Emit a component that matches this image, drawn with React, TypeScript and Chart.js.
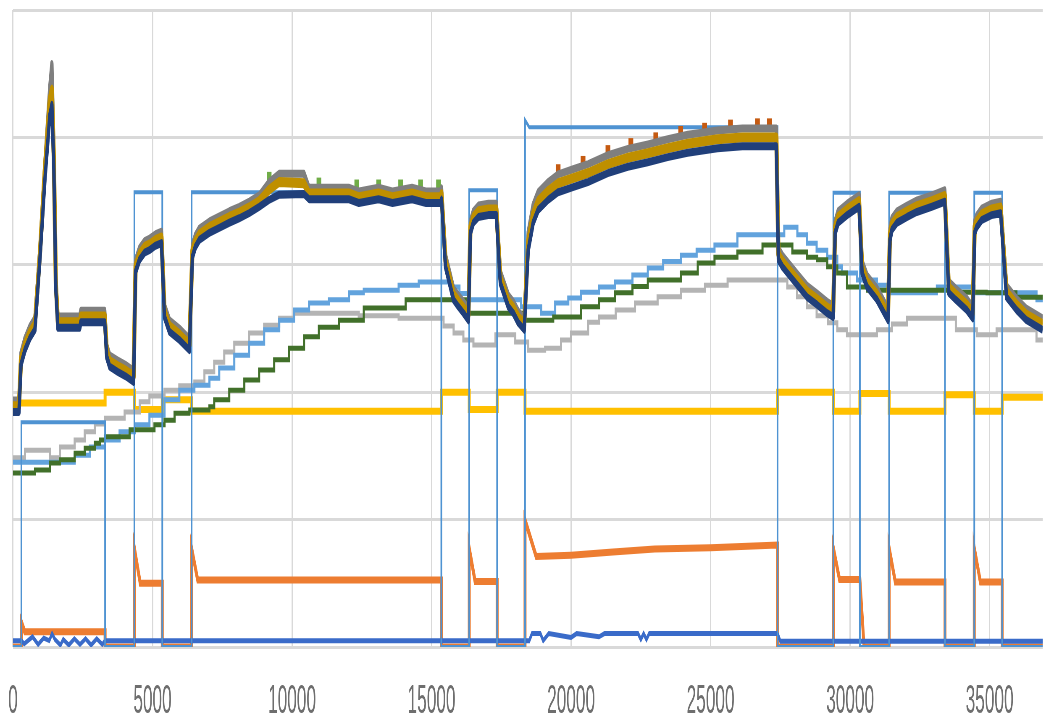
import React, { useEffect, useRef } from 'react';
import { Chart, registerables } from 'chart.js';

Chart.register(...registerables);

// ---- picture geometry (the reference is squeezed horizontally) ----
const DISPLAY_W = 1046;
const DISPLAY_H = 717;
const SQUEEZE = 0.42;
const CANVAS_W = Math.round(DISPLAY_W / SQUEEZE);
const K = CANVAS_W / DISPLAY_W;

// ---- axes ----
const X_MIN = 0;
const X_MAX = 36900;
const xTickValues = [0, 5000, 10000, 15000, 20000, 25000, 30000, 35000];
const Y_MIN = 0;
const Y_MAX = 100;
const Y_STEP = 20;

type P = [number, number];

// ---- thin light-blue square wave ----
const squareWave: P[] = [
  [0, 0], [300, 0], [300, 35.3], [3300, 35.3], [3300, 0], [4350, 0], [4350, 71.4], [5350, 71.4], [5350, 0],
  [6400, 0], [6400, 71.4], [15350, 71.4], [15350, 0], [16350, 0], [16350, 71.7], [17350, 71.7], [17350, 0],
  [18350, 0], [18350, 82.7], [18500, 81.6], [27400, 81.6], [27400, 0], [29400, 0], [29400, 71.3], [30350, 71.3],
  [30350, 0], [31400, 0], [31400, 71.3], [33400, 71.3], [33400, 0], [34450, 0], [34450, 71.3], [35450, 71.3],
  [35450, 0], [36900, 0],
];

// ---- orange ----
const orangeSeries: P[] = [
  [0, 0], [300, 0], [300, 3.9], [420, 2.4], [3300, 2.4], [3300, 0], [4350, 0], [4350, 15.5], [4560, 10.0],
  [5350, 10.0], [5350, 0], [6400, 0], [6400, 15.5], [6620, 10.5], [15350, 10.5], [15350, 0], [16350, 0],
  [16350, 15.5], [16560, 10.3], [17350, 10.3], [17350, 0], [18350, 0], [18350, 19.9], [18750, 14.2],
  [20000, 14.4], [21500, 14.9], [23000, 15.4], [25000, 15.6], [27400, 16.0], [27400, 0], [29400, 0],
  [29400, 15.5], [29620, 10.6], [30350, 10.6], [30500, 0], [31400, 0], [31400, 15.5], [31620, 10.2],
  [33400, 10.2], [33400, 0], [34450, 0], [34450, 15.5], [34670, 10.2], [35450, 10.2], [35450, 0], [36900, 0],
];

// ---- royal blue near the bottom ----
const royalBlue: P[] = [
  [0, 1.0], [300, 1.0], [400, 0.5], [700, 1.6], [900, 0.4], [1100, 1.4], [1300, 1.0], [1400, 2.1], [1500, 1.2],
  [1700, 0.3], [1800, 1.2], [2000, 0.3], [2200, 1.3], [2400, 0.4], [2600, 1.3], [2800, 0.3], [3000, 1.3],
  [3200, 0.4], [3300, 1.0], [18500, 1.0], [18600, 2.1], [18900, 2.1], [19000, 1.0], [19200, 2.1], [20000, 1.5],
  [20200, 2.1], [21000, 1.6], [21200, 2.1], [22400, 2.1], [22500, 1.2], [22600, 2.1], [22700, 1.2], [22800, 2.1],
  [27400, 2.1], [27500, 0.9], [36900, 0.9],
];

// ---- yellow ----
const yellowSeries: P[] = [
  [0, 38.3], [3300, 38.3], [3300, 40.0], [4350, 40.0], [4350, 37.3], [5350, 37.3], [5350, 38.8], [6400, 38.8],
  [6400, 37.0], [15350, 37.0], [15350, 40.0], [16350, 40.0], [16350, 37.3], [17350, 37.3], [17350, 40.0],
  [18350, 40.0], [18350, 37.0], [27400, 37.0], [27400, 40.0], [29400, 40.0], [29400, 37.0], [30350, 37.0],
  [30350, 39.8], [31400, 39.8], [31400, 37.0], [33400, 37.0], [33400, 39.6], [34450, 39.6], [34450, 37.0],
  [35450, 37.0], [35450, 39.2], [36900, 39.2],
];

// ---- stepped slow series (level starts at x) ----
const grayStep: P[] = [
  [0, 29.7], [430, 30.9], [1320, 29.7], [1680, 31.4], [2210, 32.5], [2570, 33.8], [2930, 35.0], [3290, 35.9],
  [4000, 36.9], [4540, 38.5], [4890, 39.4], [5430, 40.3], [5960, 41.0], [6500, 41.6], [6860, 43.2], [7210, 44.7],
  [7570, 46.3], [7930, 47.7], [8460, 49.3], [9000, 50.5], [9540, 51.6], [10070, 52.4], [12390, 52.0],
  [13820, 51.6], [15430, 50.4], [15790, 49.3], [16140, 48.2], [16500, 47.4], [17290, 49.0], [18000, 47.9],
  [18460, 46.6], [19070, 46.9], [19640, 48.2], [20000, 49.3], [20610, 51.0], [21000, 51.8], [21600, 52.9],
  [22290, 54.0], [23100, 55.0], [23930, 56.0], [24800, 56.8], [25610, 57.6], [27750, 56.5], [28100, 55.0],
  [28460, 53.4], [28800, 52.0], [29200, 50.9], [29540, 49.8], [29890, 49.0], [30960, 49.8], [31500, 50.7],
  [32040, 51.6], [33790, 49.8], [34540, 49.0], [35250, 49.8], [36680, 48.2], [36900, 48.2],
];

const lightBlueStep: P[] = [
  [0, 29.0], [2210, 30.1], [2750, 31.4], [3290, 32.5], [3820, 33.8], [4360, 34.9], [4890, 36.4], [5430, 38.8],
  [5960, 40.3], [6500, 41.1], [7040, 42.2], [7390, 43.8], [7930, 45.8], [8460, 47.7], [9000, 49.8], [9540, 51.3],
  [10070, 52.9], [10610, 54.0], [11320, 54.5], [12040, 55.6], [12570, 56.0], [13820, 56.8], [14540, 57.3],
  [15710, 56.5], [16000, 55.5], [16320, 54.5], [18210, 53.4], [18930, 52.4], [19430, 54.0], [19900, 54.8],
  [20360, 55.7], [21000, 56.5], [21570, 57.3], [22200, 58.4], [22750, 59.5], [23300, 60.5], [23930, 61.5],
  [24500, 62.3], [25140, 63.1], [25960, 64.7], [27640, 65.9], [28110, 64.7], [28460, 63.4], [28800, 62.3],
  [29180, 61.2], [29540, 59.7], [29710, 58.7], [30250, 57.6], [30960, 56.8], [31430, 55.6], [33110, 56.5],
  [34460, 55.6], [36680, 54.5], [36900, 54.5],
];

const greenStep: P[] = [
  [0, 27.3], [790, 27.8], [1320, 28.9], [1680, 29.4], [2210, 30.4], [2570, 31.2], [2930, 32.0], [3110, 32.5],
  [3290, 33.0], [4180, 34.1], [5070, 34.9], [5430, 35.6], [5790, 36.7], [6320, 37.2], [7040, 37.7], [7210, 38.8],
  [7750, 40.3], [8290, 41.9], [8820, 43.5], [9360, 45.1], [9890, 46.9], [10430, 48.7], [10960, 50.2],
  [11680, 51.3], [12570, 53.2], [14070, 54.5], [16320, 52.4], [18360, 51.3], [19360, 51.8], [20360, 53.4],
  [21000, 54.5], [21570, 55.6], [22200, 56.6], [22750, 57.6], [23930, 58.7], [24540, 60.3], [25140, 61.2],
  [25960, 62.0], [26860, 63.1], [27930, 62.0], [28460, 61.2], [28820, 60.8], [29180, 59.7], [29540, 58.7],
  [29890, 56.5], [30610, 56.0], [33790, 55.7], [34890, 55.6], [35960, 54.9], [36900, 54.9],
];

// ---- main bundle of fast series ----
const groupX = [
  0, 214, 286, 429, 607, 786, 964, 1143, 1321, 1393, 1464, 1536, 1607, 2393, 2430, 3286, 3360, 3464, 3750, 4036,
  4321, 4393, 4536, 4714, 4893, 5107, 5321, 5429, 5607, 5964, 6321, 6429, 6536, 6679, 7036, 7393, 7750, 8107,
  8464, 8821, 9179, 9536, 10429, 10607, 12036, 12393, 13100, 13600, 14300, 14800, 15320, 15357, 15500, 15786,
  15964, 16143, 16321, 16393, 16500, 16679, 17036, 17321, 17464, 17750, 17929, 18107, 18321, 18464, 18643,
  18821, 19179, 19536, 20071, 20607, 21321, 22036, 22750, 23464, 24179, 25250, 26143, 27357, 27430, 27571,
  27750, 28107, 28464, 28821, 29179, 29393, 29464, 29571, 29893, 30321, 30429, 30607, 30964, 31357, 31429,
  31500, 31679, 32036, 32393, 32929, 33393, 33536, 33786, 34179, 34393, 34464, 34536, 34714, 35071, 35393,
  35607, 35964, 36321, 36900,
];

const navyV = [
  36.9, 36.9, 44.3, 46.6, 48.5, 49.8, 60.8, 73.3, 83.5, 85.1, 74.9, 56.0, 50.1, 50.1, 51.0, 51.0, 45.5, 44.0, 43.2,
  42.5, 41.6, 58.9, 60.8, 61.9, 62.3, 63.0, 63.4, 51.8, 49.5, 48.2, 46.6, 61.2, 62.8, 63.9, 65.0, 65.8, 66.6, 67.3,
  68.1, 69.1, 70.2, 71.0, 71.1, 70.3, 70.3, 69.7, 70.3, 69.7, 70.3, 69.7, 69.7, 70.2, 59.7, 54.5, 53.4, 52.4, 51.3,
  65.0, 66.6, 67.5, 67.8, 67.8, 57.1, 53.4, 52.4, 50.9, 49.8, 62.3, 66.6, 68.6, 70.2, 71.4, 72.2, 73.0, 74.4, 75.4,
  76.1, 76.9, 77.6, 78.3, 78.6, 78.6, 60.8, 59.7, 58.7, 56.8, 54.9, 53.7, 52.4, 51.8, 65.0, 66.6, 67.8, 69.1, 58.7,
  56.5, 54.5, 51.3, 63.9, 65.5, 66.6, 67.5, 68.3, 69.1, 69.9, 55.6, 54.5, 52.9, 51.6, 65.0, 65.9, 67.0, 67.8, 68.1,
  54.9, 52.9, 51.3, 49.8,
];

const goldV = [
  37.8, 37.8, 45.2, 47.5, 49.4, 50.7, 61.7, 75.0, 86.0, 87.5, 76.5, 56.9, 51.0, 51.0, 51.9, 51.9, 46.4, 44.9, 44.1,
  43.4, 42.5, 59.8, 61.7, 62.8, 63.2, 63.9, 64.3, 52.7, 50.4, 49.1, 47.5, 62.1, 63.7, 64.8, 65.9, 66.7, 67.5, 68.2,
  69.0, 70.0, 71.8, 73.0, 72.8, 71.2, 71.2, 70.6, 71.2, 70.6, 71.2, 70.6, 70.6, 71.1, 60.6, 55.4, 54.3, 53.3, 52.2,
  65.9, 67.5, 68.4, 68.7, 68.7, 58.0, 54.3, 53.3, 51.8, 50.7, 63.7, 68.0, 70.0, 71.6, 72.8, 73.6, 74.4, 75.8, 76.8,
  77.5, 78.3, 79.0, 79.7, 80.0, 80.0, 61.7, 60.6, 59.6, 57.7, 55.8, 54.6, 53.3, 52.7, 65.9, 67.5, 68.7, 70.0, 59.6,
  57.4, 55.4, 52.2, 64.8, 66.4, 67.5, 68.4, 69.2, 70.0, 70.8, 56.5, 55.4, 53.8, 52.5, 65.9, 66.8, 67.9, 68.7, 69.0,
  55.8, 53.8, 52.2, 50.7,
];

const darkGrayV = [
  38.7, 38.7, 46.1, 48.4, 50.3, 51.6, 62.6, 76.0, 88.0, 91.5, 78.0, 57.8, 51.9, 51.9, 52.8, 52.8, 47.3, 45.8, 45.0,
  44.3, 43.4, 60.7, 62.6, 63.7, 64.1, 64.8, 65.2, 53.6, 51.3, 50.0, 48.4, 63.0, 64.6, 65.7, 66.8, 67.6, 68.4, 69.1,
  69.9, 70.9, 73.0, 74.3, 74.3, 72.1, 72.1, 71.5, 72.1, 71.5, 72.1, 71.5, 71.5, 72.0, 61.5, 56.3, 55.2, 54.2, 53.1,
  66.8, 68.4, 69.3, 69.6, 69.6, 58.9, 55.2, 54.2, 52.7, 51.6, 65.1, 69.4, 71.4, 73.0, 74.2, 75.0, 75.8, 77.2, 78.2,
  78.9, 79.7, 80.4, 81.1, 81.4, 81.4, 62.6, 61.5, 60.5, 58.6, 56.7, 55.5, 54.2, 53.6, 66.8, 68.4, 69.6, 70.9, 60.5,
  58.3, 56.3, 53.1, 65.7, 67.3, 68.4, 69.3, 70.1, 70.9, 71.7, 57.4, 56.3, 54.7, 53.4, 66.8, 67.7, 68.8, 69.6, 69.9,
  56.7, 54.7, 53.1, 51.6,
];

// small coloured bumps peeking above the bundle
const redBumps: P[] = [
  [19536, 74.9], [20429, 76.2], [21321, 77.9], [22143, 79.0], [23036, 79.9], [23929, 80.9], [24786, 81.4],
  [25714, 81.9], [26679, 82.1], [27107, 82.1],
];
const greenBumps: P[] = [
  [9179, 73.7], [10964, 72.8], [12321, 72.5], [13107, 72.5], [13893, 72.5], [14607, 72.5], [15250, 72.5],
];

const toXY = (pts: P[]) => pts.map(([x, y]) => ({ x, y }));
const zipXY = (xs: number[], ys: number[]) => xs.map((x, i) => ({ x, y: ys[i] }));

function lineDs(
  label: string,
  data: { x: number; y: number }[],
  color: string,
  width: number,
  stepped = false,
  join: 'miter' | 'round' | 'bevel' = 'miter',
) {
  return {
    label,
    data,
    borderColor: color,
    backgroundColor: color,
    borderWidth: width,
    pointRadius: 0,
    tension: 0,
    fill: false,
    stepped: stepped ? ('before' as const) : false,
    borderCapStyle: 'butt' as const,
    borderJoinStyle: join,
  };
}

function pointDs(label: string, data: { x: number; y: number }[], color: string) {
  return {
    label,
    data,
    showLine: false,
    borderColor: color,
    backgroundColor: color,
    pointStyle: 'rect' as const,
    pointRadius: 8,
    pointBorderWidth: 0,
  };
}

export default function App() {
  const ref = useRef<HTMLCanvasElement>(null);

  useEffect(() => {
    document.body.style.margin = '0';
    const canvas = ref.current;
    if (!canvas) return;
    const chart = new Chart(canvas, {
      type: 'line',
      data: {
        datasets: [
          lineDs('navy', zipXY(groupX, navyV), '#203F7A', 8, false, 'round'),
          lineDs('gold', zipXY(groupX, goldV), '#BF8F00', 10, false, 'round'),
          lineDs('dark gray', zipXY(groupX, darkGrayV), '#7F7F7F', 8, false, 'round'),
          pointDs('red', toXY(redBumps), '#C55A11'),
          pointDs('green', toXY(greenBumps), '#70AD47'),
          lineDs('square', toXY(squareWave), '#4F93D2', 4),
          lineDs('green step', toXY(greenStep), '#41702A', 5, true),
          lineDs('light blue step', toXY(lightBlueStep), '#62A3DD', 5, true),
          lineDs('gray step', toXY(grayStep), '#B4B4B4', 5, true),
          lineDs('yellow', toXY(yellowSeries), '#FFC000', 7),
          lineDs('royal blue', toXY(royalBlue), '#3A6BC9', 5),
          lineDs('orange', toXY(orangeSeries), '#ED7D31', 7),
        ] as any,
      },
      options: {
        responsive: false,
        maintainAspectRatio: false,
        devicePixelRatio: 1,
        animation: false,
        events: [],
        layout: { padding: { left: 0, right: 0, top: 10, bottom: 0 } },
        plugins: { legend: { display: false }, tooltip: { enabled: false }, title: { display: false } },
        scales: {
          x: {
            type: 'linear',
            min: X_MIN,
            max: X_MAX,
            grid: { color: '#D9D9D9', lineWidth: 3, drawTicks: false },
            border: { display: false },
            afterBuildTicks: (scale: any) => {
              scale.ticks = xTickValues.map((value) => ({ value }));
            },
            afterFit: (scale: any) => {
              scale.height = 70;
              scale.paddingLeft = 0;
              scale.paddingRight = 0;
            },
            ticks: {
              autoSkip: false,
              maxRotation: 0,
              minRotation: 0,
              padding: 38,
              color: '#6E6E6E',
              font: { family: 'Liberation Sans', size: 41, lineHeight: 0.8 },
              callback: (v: any) => String(v),
            },
          },
          y: {
            type: 'linear',
            min: Y_MIN,
            max: Y_MAX,
            grid: { color: '#D9D9D9', lineWidth: 3, drawTicks: false },
            border: { display: false },
            afterFit: (scale: any) => {
              scale.width = 13 * K;
            },
            ticks: { stepSize: Y_STEP, display: false },
          },
        },
      },
    });
    return () => chart.destroy();
  }, []);

  return (
    <div style={{ position: 'fixed', left: 0, top: 0, width: DISPLAY_W, height: DISPLAY_H, background: '#ffffff' }}>
      <canvas
        ref={ref}
        width={CANVAS_W}
        height={DISPLAY_H}
        style={{ width: DISPLAY_W + 'px', height: DISPLAY_H + 'px', display: 'block' }}
      />
    </div>
  );
}
